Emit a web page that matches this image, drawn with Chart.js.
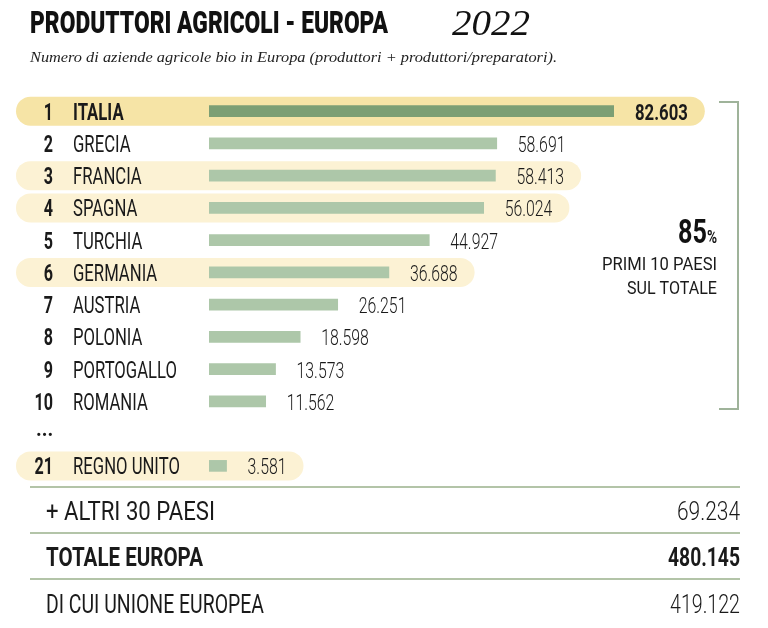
<!DOCTYPE html>
<html>
<head>
<meta charset="utf-8">
<script src="https://cdn.jsdelivr.net/npm/chart.js@4.4.1/dist/chart.umd.min.js"></script>
<style>
  html, body { margin: 0; padding: 0; background: #fff; }
  #chart { display: block; }
</style>
</head>
<body>
<canvas id="chart" width="768" height="628"></canvas>
<script>
// data
const ranks = ['1', '2', '3', '4', '5', '6', '7', '8', '9', '10', '...', '21'];
const countries = ['ITALIA', 'GRECIA', 'FRANCIA', 'SPAGNA', 'TURCHIA', 'GERMANIA', 'AUSTRIA',
                   'POLONIA', 'PORTOGALLO', 'ROMANIA', '', 'REGNO UNITO'];
const producers = [82603, 58691, 58413, 56024, 44927, 36688, 26251, 18598, 13573, 11562, null, 3581];
const highlighted = [1, 0, 1, 1, 0, 1, 0, 0, 0, 0, 0, 1];
const otherLabels = ['+ ALTRI 30 PAESI', 'TOTALE EUROPA', 'DI CUI UNIONE EUROPEA'];
const otherValues = [69234, 480145, 419122];
const shareTop10 = 85;

const SANS = 'Roboto, "Liberation Sans", sans-serif';
const SERIF = '"Liberation Serif", "DejaVu Serif", serif';

function fmt(n) {
    return String(n).replace(/\B(?=(\d{3})+(?!\d))/g, '.');
}

// draws condensed text by squeezing it horizontally, returns the drawn width
function text(ctx, s, x, y, font, color, align, sx) {
    ctx.save();
    ctx.font = font;
    ctx.fillStyle = color;
    ctx.textBaseline = 'alphabetic';
    ctx.textAlign = align || 'left';
    ctx.translate(x, y);
    ctx.scale(sx || 1, 1);
    ctx.fillText(s, 0, 0);
    const w = ctx.measureText(s).width * (sx || 1);
    ctx.restore();
    return w;
}

function textWidth(ctx, s, font, sx) {
    ctx.save();
    ctx.font = font;
    const w = ctx.measureText(s).width * (sx || 1);
    ctx.restore();
    return w;
}

// squeeze to a given width
function fitText(ctx, s, x, y, font, color, width, align) {
    const sx = width / textWidth(ctx, s, font, 1);
    return text(ctx, s, x, y, font, color, align, sx);
}

function roundRect(ctx, x, y, w, h, r) {
    ctx.beginPath();
    ctx.moveTo(x + r, y);
    ctx.lineTo(x + w - r, y);
    ctx.arc(x + w - r, y + r, r, -Math.PI / 2, Math.PI / 2);
    ctx.lineTo(x + r, y + h);
    ctx.arc(x + r, y + r, r, Math.PI / 2, Math.PI * 1.5);
    ctx.closePath();
}

const valueFont = i => i === 0 ? '700 22px ' + SANS : '300 22px ' + SANS;
const valueSx = i => i === 0 ? 0.76 : 0.72;
const NAME_SX = 0.71;

const pillsPlugin = {
    id: 'pills',
    beforeDatasetsDraw(chart) {
        const ctx = chart.ctx;
        const xs = chart.scales.x, ys = chart.scales.y;
        highlighted.forEach((h, i) => {
            if (!h) return;
            const yc = ys.getPixelForValue(i);
            const end = xs.getPixelForValue(producers[i]);
            const lw = textWidth(ctx, fmt(producers[i]), valueFont(i), valueSx(i));
            const right = end + 21 + lw + 17;
            ctx.save();
            ctx.fillStyle = i === 0 ? '#f6e4a6' : '#fcf2d4';
            roundRect(ctx, 16, yc - 14.5, right - 16, 29, 14.5);
            ctx.fill();
            ctx.restore();
        });
    }
};

const labelsPlugin = {
    id: 'rowLabels',
    afterDatasetsDraw(chart) {
        const ctx = chart.ctx;
        const xs = chart.scales.x, ys = chart.scales.y;
        ranks.forEach((r, i) => {
            const yc = ys.getPixelForValue(i);
            const base = yc + 8.5;
            if (r === '...') {
                text(ctx, '...', 36, yc + 2, '700 22px ' + SANS, '#1a1a1a', 'left', 0.9);
                return;
            }
            text(ctx, r, 53, base, '700 23px ' + SANS, '#1a1a1a', 'right', 0.7);
            text(ctx, countries[i], 73, base, (i === 0 ? '700' : '400') + ' 23.5px ' + SANS, '#1a1a1a', 'left', NAME_SX);
            const end = xs.getPixelForValue(producers[i]);
            text(ctx, fmt(producers[i]), end + 21, base, valueFont(i), '#1a1a1a', 'left', valueSx(i));
        });
    }
};

const decorPlugin = {
    id: 'decor',
    afterDraw(chart) {
        const ctx = chart.ctx;
        // title
        fitText(ctx, 'PRODUTTORI AGRICOLI - EUROPA', 30, 33, '900 32px ' + SANS, '#111', 358);
        fitText(ctx, '2022', 452, 35, 'italic 35px ' + SERIF, '#111', 78);
        fitText(ctx, 'Numero di aziende agricole bio in Europa (produttori + produttori/preparatori).',
                30, 62, 'italic 15.5px ' + SERIF, '#222', 527);

        // bracket for the top 10
        ctx.save();
        ctx.strokeStyle = '#9fb39a';
        ctx.lineWidth = 2;
        ctx.beginPath();
        ctx.moveTo(719, 102);
        ctx.lineTo(738, 102);
        ctx.lineTo(738, 409);
        ctx.lineTo(719, 409);
        ctx.stroke();
        ctx.restore();

        const pw = text(ctx, '%', 717, 243, '700 19px ' + SANS, '#111', 'right', 0.72);
        text(ctx, String(shareTop10), 717 - pw, 243, '700 34px ' + SANS, '#111', 'right', 0.74);
        fitText(ctx, 'PRIMI 10 PAESI', 717, 270, '400 19px ' + SANS, '#1a1a1a', 115, 'right');
        fitText(ctx, 'SUL TOTALE', 717, 294, '400 19px ' + SANS, '#1a1a1a', 90, 'right');

        // summary table
        const lineY = [487, 533, 579];
        const baseY = [520, 566, 613];
        const labelW = [169, 157, 218];
        const valueW = [63, 72, 70];
        ctx.save();
        ctx.strokeStyle = '#b3c4a8';
        ctx.lineWidth = 2;
        lineY.forEach(y => {
            ctx.beginPath();
            ctx.moveTo(30, y);
            ctx.lineTo(740, y);
            ctx.stroke();
        });
        ctx.restore();
        otherLabels.forEach((s, i) => {
            const w = i === 1 ? '700' : '400';
            fitText(ctx, s, 46, baseY[i], w + ' 26px ' + SANS, '#1a1a1a', labelW[i], 'left');
            fitText(ctx, fmt(otherValues[i]), 740, baseY[i], (i === 1 ? '700' : '300') + ' 25px ' + SANS,
                    '#1a1a1a', valueW[i], 'right');
        });
    }
};

const ctx = document.getElementById('chart').getContext('2d');
new Chart(ctx, {
    type: 'bar',
    data: {
        labels: countries.map((c, i) => c || ranks[i]),
        datasets: [{
            data: producers,
            backgroundColor: producers.map((v, i) => i === 0 ? '#7c9f74' : '#adc7a9'),
            barThickness: 11,
            borderWidth: 0
        }]
    },
    options: {
        indexAxis: 'y',
        responsive: false,
        animation: false,
        devicePixelRatio: 1,
        layout: { padding: { left: 209, right: 154, top: 95, bottom: 146 } },
        plugins: { legend: { display: false }, tooltip: { enabled: false } },
        scales: {
            x: { display: false, min: 0, max: 82603 },
            y: { display: false }
        }
    },
    plugins: [pillsPlugin, labelsPlugin, decorPlugin]
});
</script>
</body>
</html>
